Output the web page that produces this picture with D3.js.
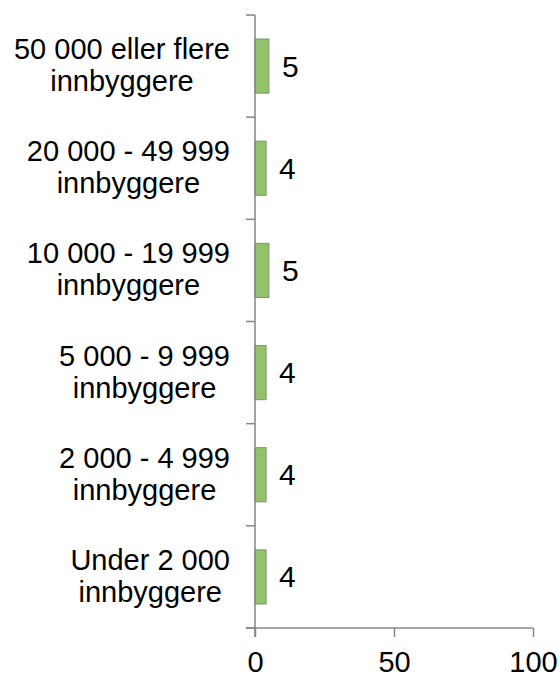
<!DOCTYPE html>
<html>
<head>
<meta charset="utf-8">
<script src="https://cdn.jsdelivr.net/npm/d3@7"></script>
<style>
  html, body { margin: 0; padding: 0; background: #fff; }
  svg { display: block; font-family: "Liberation Sans", Arial, sans-serif; }
</style>
</head>
<body>
<svg id="chart" width="560" height="677"></svg>
<script>
// Municipality size groups, top to bottom
const categories = [
  ["50 000 eller flere", "innbyggere"],
  ["20 000 - 49 999", "innbyggere"],
  ["10 000 - 19 999", "innbyggere"],
  ["5 000 - 9 999", "innbyggere"],
  ["2 000 - 4 999", "innbyggere"],
  ["Under 2 000", "innbyggere"]
];
const values = [5, 4, 5, 4, 4, 4];
const xTicks = [0, 50, 100];

const svg = d3.select("#chart");
const plot = { left: 255, right: 533, top: 15, bottom: 628 };
const axisColor = "#868686";
const fontSize = 29;

const x = d3.scaleLinear().domain([0, 100]).range([plot.left, plot.right]);
const keys = categories.map((c, i) => i);
const y = d3.scaleBand()
  .domain(keys)
  .range([plot.top, plot.bottom])
  .paddingInner(0.47)
  .paddingOuter(0.235);
const step = y.step();

// Bars
svg.append("g").selectAll("rect")
  .data(values)
  .join("rect")
  .attr("x", x(0))
  .attr("y", (d, i) => y(i))
  .attr("width", d => x(d) - x(0))
  .attr("height", y.bandwidth())
  .attr("fill", "#92c36b")
  .attr("stroke", "#7f9470")
  .attr("stroke-width", 1);

// Value labels
svg.append("g").selectAll("text")
  .data(values)
  .join("text")
  .attr("x", d => x(d) + 13)
  .attr("y", (d, i) => y(i) + y.bandwidth() / 2)
  .attr("dy", "0.35em")
  .attr("font-size", 30)
  .attr("fill", "#000")
  .text(d => d);

// Category axis: line plus ticks at band boundaries
const yAxis = svg.append("g");
yAxis.append("line")
  .attr("x1", x(0)).attr("x2", x(0))
  .attr("y1", plot.top).attr("y2", plot.bottom + 9)
  .attr("stroke", axisColor).attr("stroke-width", 1.5);
yAxis.selectAll("line.tick")
  .data(d3.range(categories.length + 1))
  .join("line")
  .attr("class", "tick")
  .attr("x1", x(0) - 9).attr("x2", x(0))
  .attr("y1", i => plot.top + i * step)
  .attr("y2", i => plot.top + i * step)
  .attr("stroke", axisColor).attr("stroke-width", 1.5);

// Category labels: lines centred within a right-aligned block
const labelRight = 230;
const lab = svg.append("g").attr("font-size", fontSize).attr("fill", "#000");
categories.forEach((lines, i) => {
  const cy = y(i) + y.bandwidth() / 2;
  const g = lab.append("g");
  const texts = lines.map((t, j) =>
    g.append("text")
      .attr("y", cy - 7 + j * 32)
      .attr("text-anchor", "middle")
      .text(t));
  const maxW = d3.max(texts, t => t.node().getComputedTextLength());
  texts.forEach(t => t.attr("x", labelRight - maxW / 2));
});

// Value axis
const xAxis = svg.append("g").attr("transform", `translate(0,${plot.bottom})`)
  .call(d3.axisBottom(x).tickValues(xTicks).tickSize(9).tickPadding(14).tickFormat(d3.format("d")));
xAxis.select(".domain")
  .attr("d", `M${x(0) - 9},0H${x(100)}`)
  .attr("stroke", axisColor).attr("stroke-width", 1.5);
xAxis.selectAll(".tick line").attr("stroke", axisColor).attr("stroke-width", 1.5);
xAxis.selectAll(".tick text")
  .attr("font-size", fontSize)
  .attr("font-family", "Liberation Sans, Arial, sans-serif")
  .attr("fill", "#000");
</script>
</body>
</html>
